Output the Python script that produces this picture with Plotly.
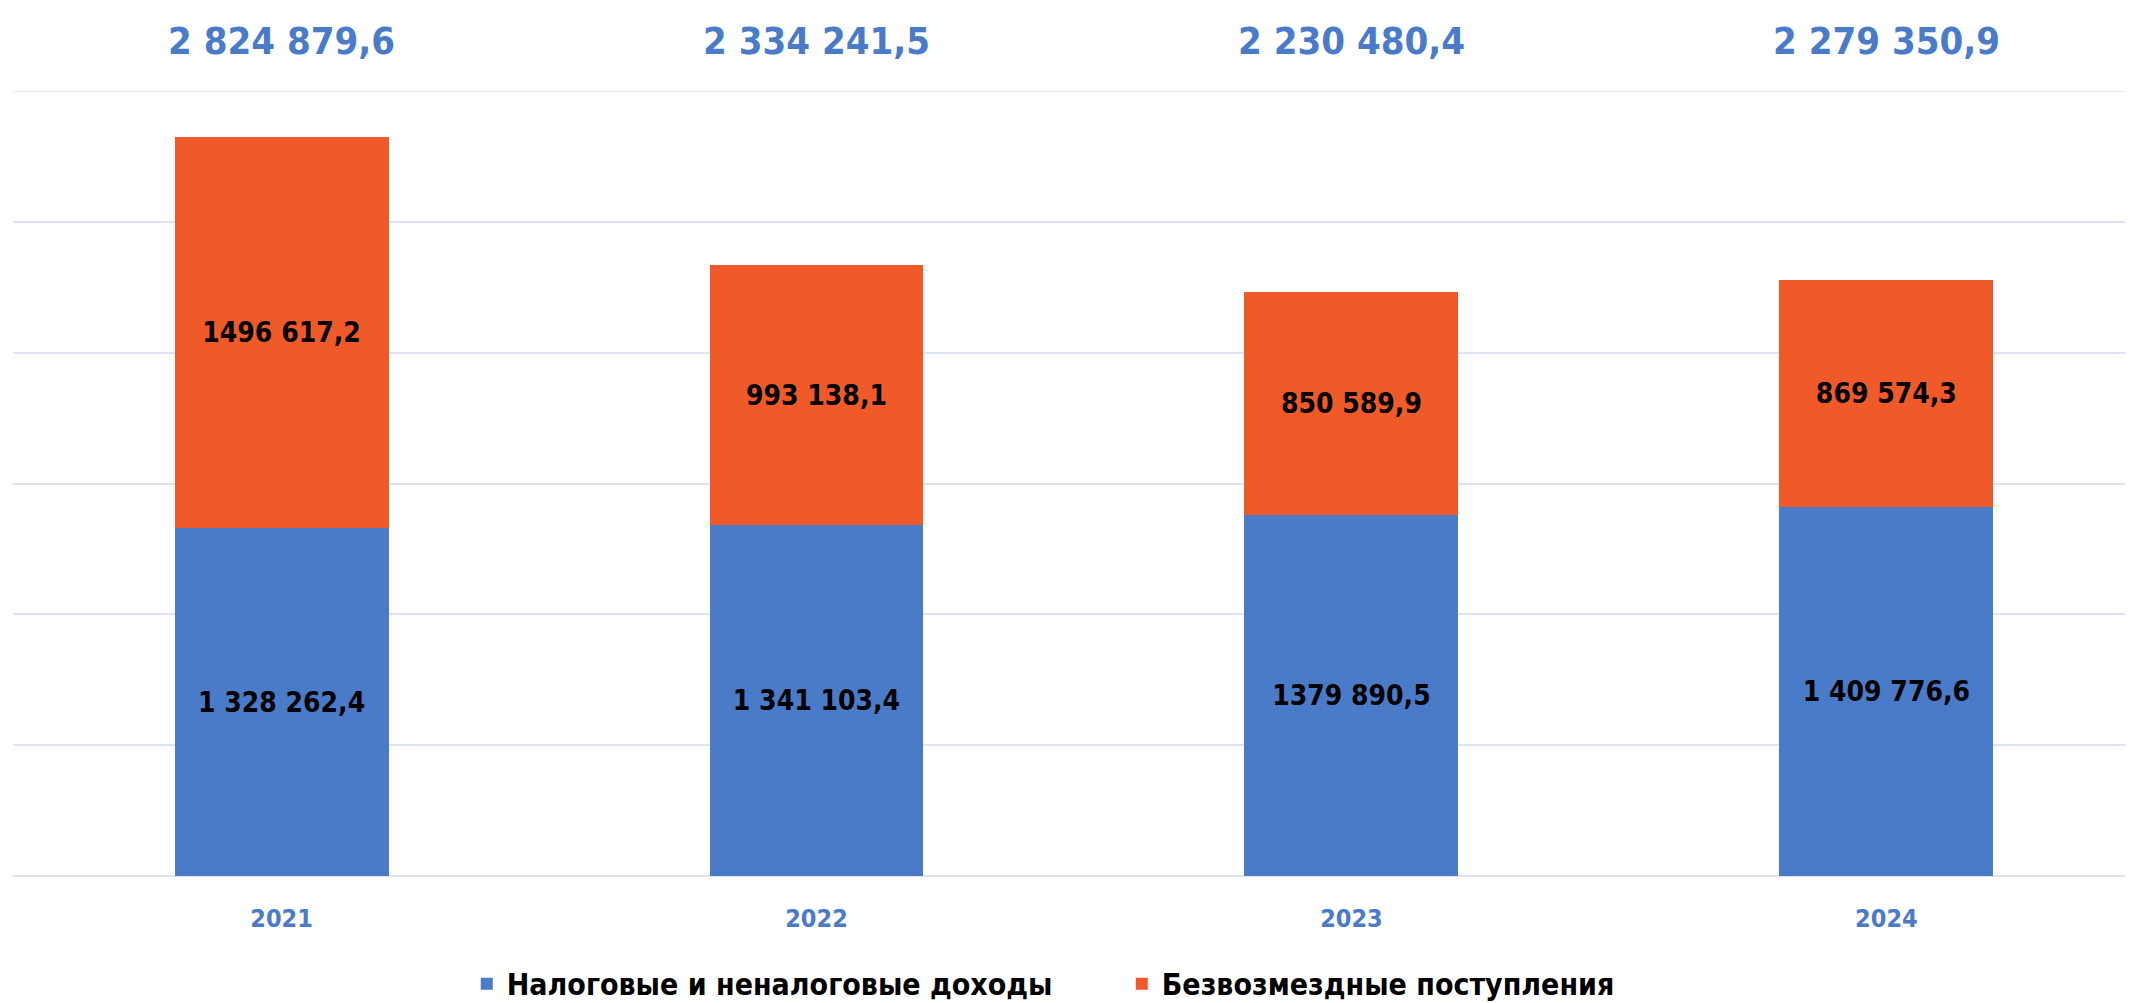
import plotly.graph_objects as go

years = ["2021", "2022", "2023", "2024"]
tax_vals = [1328262.4, 1341103.4, 1379890.5, 1409776.6]
free_vals = [1496617.2, 993138.1, 850589.9, 869574.3]
tax_text = ["1 328 262,4", "1 341 103,4", "1379 890,5", "1 409 776,6"]
free_text = ["1496 617,2", "993 138,1", "850 589,9", "869 574,3"]
total_text = ["2 824 879,6", "2 334 241,5", "2 230 480,4", "2 279 350,9"]
series_names = ["Налоговые и неналоговые доходы", "Безвозмездные поступления"]

BLUE = "#4A7BC9"
ORANGE = "#F05A28"
GRID = "#DDE3F0"
FONT = "'Liberation Sans Narrow', 'DejaVu Sans Condensed', 'Arial Narrow', sans-serif"

fig = go.Figure()
fig.add_trace(go.Bar(
    x=years, y=tax_vals, name=series_names[0], marker=dict(color=BLUE, line=dict(width=0)),
    text=tax_text, textposition="inside", insidetextanchor="middle", textangle=0,
    constraintext="none",
    textfont=dict(family=FONT, size=28, color="black", weight="bold"),
    hoverinfo="skip",
))
fig.add_trace(go.Bar(
    x=years, y=free_vals, name=series_names[1], marker=dict(color=ORANGE, line=dict(width=0)),
    text=free_text, textposition="inside", insidetextanchor="middle", textangle=0,
    constraintext="none",
    textfont=dict(family=FONT, size=28, color="black", weight="bold"),
    hoverinfo="skip",
))

for i, t in enumerate(total_text):
    fig.add_annotation(x=i, xref="x", y=1.0637, yref="paper", yanchor="middle",
                       text=t, showarrow=False,
                       font=dict(family=FONT, size=38, color=BLUE, weight="bold"))

# top gridline at the upper edge of the range
fig.add_shape(type="line", xref="paper", x0=0, x1=1, yref="y", y0=3000000, y1=3000000,
              line=dict(color=GRID, width=1.5), layer="below")

fig.update_layout(
    width=2125, height=995,
    barmode="stack", bargap=0.6,
    plot_bgcolor="white", paper_bgcolor="white",
    margin=dict(l=5, r=0, t=83, b=127, autoexpand=False),
    showlegend=True,
    legend=dict(orientation="h", x=0.523, xanchor="center", y=-0.104, yanchor="top",
                font=dict(family=FONT, size=30, color="black", weight="bold"),
                itemwidth=30, entrywidthmode="pixels", entrywidth=610,
                traceorder="normal"),
    xaxis=dict(type="category", range=[-0.502, 3.461], showgrid=False, showline=False,
               ticks="outside", ticklen=20, tickcolor="rgba(0,0,0,0)",
               tickfont=dict(family=FONT, size=25, color=BLUE, weight="bold")),
    yaxis=dict(range=[0, 3000000], dtick=500000, showgrid=True, gridcolor=GRID,
               gridwidth=1.5, zeroline=True, zerolinecolor=GRID, zerolinewidth=1.5,
               showticklabels=False, showline=False),
)

fig.write_html("out.html")
